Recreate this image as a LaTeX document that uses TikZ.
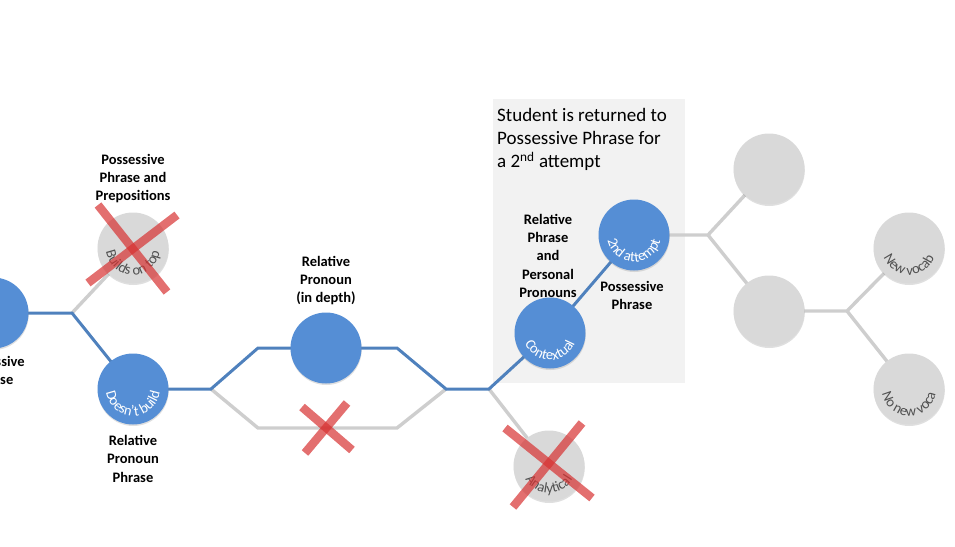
\documentclass[tikz,border=0pt]{standalone}
\usepackage{fontspec}
\setmainfont{Carlito}
\usetikzlibrary{shadows,decorations.text,calc}
\definecolor{nodeblue}{RGB}{85,142,213}
\definecolor{lineblue}{RGB}{79,129,189}
\definecolor{nodegray}{RGB}{217,217,217}
\definecolor{linegray}{RGB}{206,206,206}
\definecolor{boxgray}{RGB}{242,242,242}
\definecolor{crossred}{RGB}{215,50,50}
\definecolor{circtext}{RGB}{80,80,80}
\tikzset{
  circ/.style={circle, minimum size=71pt, inner sep=0pt, draw=none,
    drop shadow={shadow xshift=0.3pt, shadow yshift=-1.5pt, opacity=0.25}},
  bluec/.style={circ, fill=nodeblue},
  grayc/.style={circ, fill=nodegray},
  blueline/.style={draw=lineblue, line width=3pt},
  grayline/.style={draw=linegray, line width=3.4pt},
  crossline/.style={draw=crossred, line width=8.5pt, opacity=0.7},
  lbl/.style={anchor=north, align=center, inner sep=0pt,
    font=\bfseries\fontsize{14.5}{18.3}\selectfont},
  boxtext/.style={anchor=north west, align=left, inner sep=0pt,
    font=\fontsize{19}{23.3}\selectfont},
}
\newcommand{\arctext}[3]{% center node, colour, text
  \path[decorate, decoration={text along path, text align=center,
    text={|\color{#2}\fontsize{14.5}{16}\selectfont|#3}}]
    ($(#1)+(182:27pt)$) arc[start angle=182, end angle=358, radius=27pt];}
\begin{document}
\begin{tikzpicture}[x=1pt, y=-1pt]
\useasboundingbox (0,0) rectangle (955,546);
\clip (0,0) rectangle (955,546);
% background box
\fill[boxgray] (493,99) rectangle (685,383);
\node[boxtext] (boxt) at (497,108) {Student is returned to\\Possessive Phrase for\\a 2\textsuperscript{nd} attempt};
% junctions
\coordinate (j1) at (72,313);
\coordinate (j2) at (211,389);
\coordinate (a1) at (258,348);
\coordinate (a2) at (397,348);
\coordinate (b1) at (258,428);
\coordinate (b2) at (397,428);
\coordinate (j3) at (446,389);
\coordinate (j4) at (489,389);
\coordinate (j5) at (708,235);
\coordinate (j6) at (847,311);
% node positions
\coordinate (ppc) at (-7,313);
\coordinate (botc) at (133,248);
\coordinate (dbc) at (133,389);
\coordinate (rpdc) at (326,348);
\coordinate (ctxc) at (550,333);
\coordinate (attc) at (634,235);
\coordinate (anac) at (549,466);
\coordinate (t1c) at (769,169);
\coordinate (t2c) at (769,311);
\coordinate (nvc) at (909,248);
\coordinate (nnvc) at (909,389);
% connectors
\draw[grayline] (j1) -- (botc);
\draw[grayline] (j2) -- (b1) -- (b2) -- (j3);
\draw[grayline] (j4) -- (anac);
\draw[grayline] (attc) -- (j5) -- (t1c);
\draw[grayline] (j5) -- (t2c) -- (j6) -- (nvc);
\draw[grayline] (j6) -- (nnvc);
\draw[blueline] (ppc) -- (j1) -- (dbc) -- (j2) -- (a1) -- (rpdc) -- (a2) -- (j3) -- (j4) -- (ctxc) -- (attc);
% circles
\node[bluec] (pp) at (ppc) {};
\node[grayc] (bot) at (botc) {};
\node[bluec] (db) at (dbc) {};
\node[bluec] (rpd) at (rpdc) {};
\node[bluec] (ctx) at (ctxc) {};
\node[bluec] (att) at (attc) {};
\node[grayc] (ana) at (anac) {};
\node[grayc] (t1) at (t1c) {};
\node[grayc] (t2) at (t2c) {};
\node[grayc] (nv) at (nvc) {};
\node[grayc] (nnv) at (nnvc) {};
% curved texts
\arctext{bot}{circtext}{Builds on top}
\arctext{db}{white}{Doesn't build}
\arctext{ctx}{white}{Contextual}
\arctext{att}{white}{2nd attempt}
\arctext{ana}{circtext}{Analytical}
\arctext{nv}{circtext}{New vocab}
\arctext{nnv}{circtext}{No new voca}
% labels
\node[lbl] (lpp) at (-7,356) {Possessive\\Phrase};
\node[lbl] (lbot) at (133,154) {Possessive\\Phrase and\\Prepositions};
\node[lbl] (ldb) at (133,435) {Relative\\Pronoun\\Phrase};
\node[lbl] (lrpd) at (326,256) {Relative\\Pronoun\\(in depth)};
\node[lbl] (lctx) at (548,214) {Relative\\Phrase\\and\\Personal\\Pronouns};
\node[lbl] (latt) at (632,281) {Possessive\\Phrase};
% crosses
\draw[crossline] (98,205) -- (167,292);
\draw[crossline] (177,215) -- (88,283);
\draw[crossline] (302,407) -- (352,450);
\draw[crossline] (347,403) -- (305,453);
\draw[crossline] (505,428) -- (592,498);
\draw[crossline] (582,423) -- (513,507);
\end{tikzpicture}
\end{document}
